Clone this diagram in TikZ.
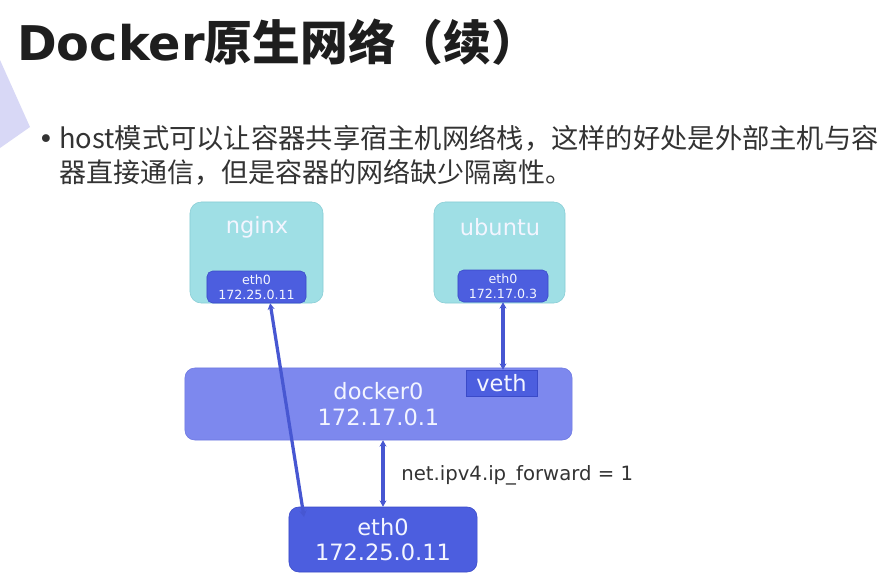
\documentclass[tikz,border=0pt]{standalone}
\usepackage{fontspec}
\setmainfont{Noto Sans CJK SC}
\newfontfamily\diagfont{DejaVu Sans}
\usetikzlibrary{arrows.meta}
\definecolor{SlideInk}{HTML}{1E1E1E}
\definecolor{SlideText}{HTML}{333333}
\definecolor{SlideLilac}{HTML}{D8D8F6}
\definecolor{CtrTeal}{HTML}{9FDFE5}
\definecolor{CtrTealEdge}{HTML}{88CDD5}
\definecolor{BridgeBlue}{HTML}{7D88EE}
\definecolor{BridgeEdge}{HTML}{6C77E2}
\definecolor{PortBlue}{HTML}{4C5EDF}
\definecolor{PortEdge}{HTML}{3A4AC8}
\definecolor{LinkBlue}{HTML}{4757D2}
\definecolor{BoxText}{HTML}{F3F5FF}

\begin{document}
\begin{tikzpicture}[x=0.025cm,y=-0.025cm,font=\diagfont,
  ctrbox/.style={draw=CtrTealEdge,fill=CtrTeal,rounded corners=8pt,inner sep=0},
  portbox/.style={draw=PortEdge,fill=PortBlue,text=BoxText,rounded corners=4pt,
    inner sep=0,align=center,font=\diagfont\fontsize{9}{10.6}\selectfont},
  link/.style={draw=LinkBlue,line width=2.3pt,
    {Stealth[length=4.5pt,width=5pt]}-{Stealth[length=4.5pt,width=5pt]}},
  boxname/.style={text=BoxText,font=\diagfont\fontsize{16}{18}\selectfont}]
  \useasboundingbox (0,0) rectangle (880,580);
  \fill[white] (0,0) rectangle (880,580);
  \fill[SlideLilac] (0,60) -- (30,127) -- (0,148) -- cycle;

  % title and bullet text
  \node[anchor=west,inner sep=0,text=SlideInk,font=\bfseries\fontsize{34}{40}\selectfont]
    (title) at (17,42) {{\diagfont\bfseries Docker}原生网络（续）};
  \node[text=SlideText,inner sep=0,font=\diagfont\fontsize{19}{22}\selectfont] (bullet) at (46,142) {•};
  \node[anchor=west,inner sep=0,text=SlideText,font=\fontsize{19.4}{22}\selectfont]
    (lineone) at (59,138) {host模式可以让容器共享宿主机网络栈，这样的好处是外部主机与容};
  \node[anchor=west,inner sep=0,text=SlideText,font=\fontsize{19.2}{22}\selectfont]
    (linetwo) at (59,172) {器直接通信，但是容器的网络缺少隔离性。};

  % containers
  \node[ctrbox,minimum width=3.325cm,minimum height=2.525cm] (nginx) at (256.5,252.5) {};
  \node[ctrbox,minimum width=3.275cm,minimum height=2.525cm] (ubuntu) at (499.5,252.5) {};
  \node[boxname] (nginxname) at (257,227) {nginx};
  \node[boxname] (ubuntuname) at (500,227) {ubuntu};
  \node[portbox,minimum width=2.475cm,minimum height=0.8cm] (nginxeth) at (256.5,287)
    {eth0\\172.25.0.11};
  \node[portbox,minimum width=2.25cm,minimum height=0.8cm] (ubuntueth) at (503,286)
    {eth0\\172.17.0.3};

  % bridge and host
  \node[draw=BridgeEdge,fill=BridgeBlue,rounded corners=7pt,minimum width=9.675cm,
    minimum height=1.8cm,inner sep=0,text=BoxText,align=center,
    font=\diagfont\fontsize{16}{18.5}\selectfont] (dockerzero) at (378.5,404)
    {docker0\\172.17.0.1};
  \node[draw=PortEdge,fill=PortBlue,minimum width=1.775cm,minimum height=0.65cm,
    inner sep=0,boxname] (veth) at (501.5,383) {veth};
  \node[draw=PortEdge,fill=PortBlue,rounded corners=7pt,minimum width=4.7cm,
    minimum height=1.625cm,inner sep=0,text=BoxText,align=center,
    font=\diagfont\fontsize{16}{17.8}\selectfont] (hosteth) at (383,539.5)
    {eth0\\172.25.0.11};
  \node[anchor=west,inner sep=0,text=SlideText,font=\diagfont\fontsize{14}{16}\selectfont]
    (fwdlabel) at (401,475) {net.ipv4.ip\_forward = 1};

  % links
  \coordinate (hostport) at (304,517);
  \draw[link] (nginxeth.-50) -- (hostport);
  \draw[link] (ubuntueth.south) -- (ubuntueth.south |- veth.north);
  \draw[link] (hosteth.north |- dockerzero.south) -- (hosteth.north);
\end{tikzpicture}
\end{document}
